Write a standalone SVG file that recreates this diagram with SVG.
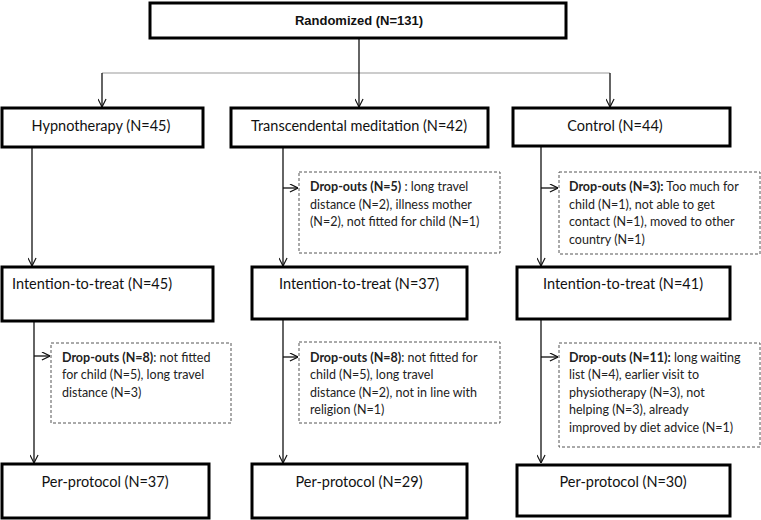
<svg xmlns="http://www.w3.org/2000/svg" width="761" height="520" viewBox="0 0 761 520">
<style>
.box{fill:#fff;stroke:#000;stroke-width:3}
.drop{fill:#fff;stroke:#555;stroke-width:1;stroke-dasharray:3 2}
.ln{fill:none;stroke:#111;stroke-width:1.3}
.gl{fill:none;stroke:#999;stroke-width:1.2}
.t{font-family:Lato,"Liberation Sans",sans-serif;font-size:14.5px;fill:#111}
.d{font-family:Lato,"Liberation Sans",sans-serif;font-size:12.5px;fill:#222}
.b{font-weight:bold}
.top{font-family:"Liberation Sans",Arial,sans-serif;font-size:13px;font-weight:bold;fill:#111}
</style>
<defs>
<marker id="ar" viewBox="0 0 10 10" refX="10" refY="5" markerWidth="9" markerHeight="9" markerUnits="userSpaceOnUse" orient="auto">
<path d="M1,0.5 L10,5 L1,9.5" fill="none" stroke="#111" stroke-width="1.3"/>
</marker>
</defs>
<g id="connectors">
<line class="gl" x1="102" y1="73" x2="610" y2="73"/>
<line class="ln" x1="359" y1="38" x2="359" y2="107" marker-end="url(#ar)"/>
<line class="ln" x1="102" y1="73" x2="102" y2="107" marker-end="url(#ar)"/>
<line class="ln" x1="610" y1="73" x2="610" y2="107" marker-end="url(#ar)"/>
<line class="ln" x1="32" y1="147" x2="32" y2="266" marker-end="url(#ar)"/>
<line class="ln" x1="283" y1="147" x2="283" y2="266" marker-end="url(#ar)"/>
<line class="ln" x1="541" y1="146" x2="541" y2="266" marker-end="url(#ar)"/>
<line class="ln" x1="283" y1="188" x2="298" y2="188" marker-end="url(#ar)"/>
<line class="ln" x1="541" y1="188" x2="558" y2="188" marker-end="url(#ar)"/>
<line class="ln" x1="34" y1="321" x2="34" y2="463" marker-end="url(#ar)"/>
<line class="ln" x1="283" y1="319" x2="283" y2="463" marker-end="url(#ar)"/>
<line class="ln" x1="541" y1="319" x2="541" y2="463" marker-end="url(#ar)"/>
<line class="ln" x1="34" y1="356" x2="50" y2="356" marker-end="url(#ar)"/>
<line class="ln" x1="283" y1="357" x2="298" y2="357" marker-end="url(#ar)"/>
<line class="ln" x1="541" y1="357" x2="558" y2="357" marker-end="url(#ar)"/>
</g>
<g id="randomized">
<rect class="box" x="150" y="3" width="416" height="35"/>
<text class="top" x="359" y="25" text-anchor="middle">Randomized (N=131)</text>
</g>
<g id="hypnotherapy">
<rect class="box" x="2" y="108" width="201" height="39"/>
<text class="t" x="101" y="131" text-anchor="middle">Hypnotherapy (N=45)</text>
</g>
<g id="tm">
<rect class="box" x="231" y="108" width="257" height="39"/>
<text class="t" x="359" y="131" text-anchor="middle">Transcendental meditation (N=42)</text>
</g>
<g id="control">
<rect class="box" x="513" y="108" width="217" height="38"/>
<text class="t" x="615" y="131" text-anchor="middle">Control (N=44)</text>
</g>
<g id="drop-tm-1">
<rect class="drop" x="299" y="172" width="201" height="81"/>
<text class="d" x="310" y="191"><tspan class="b">Drop-outs (N=5)</tspan> : long travel</text>
<text class="d" x="310" y="208.5">distance (N=2), illness mother</text>
<text class="d" x="310" y="226">(N=2), not fitted for child (N=1)</text>
</g>
<g id="drop-control-1">
<rect class="drop" x="559" y="172" width="201" height="82"/>
<text class="d" x="569" y="191"><tspan class="b">Drop-outs (N=3):</tspan> Too much for</text>
<text class="d" x="569" y="208.5">child (N=1), not able to get</text>
<text class="d" x="569" y="226">contact (N=1), moved to other</text>
<text class="d" x="569" y="243.5">country (N=1)</text>
</g>
<g id="itt-hypno">
<rect class="box" x="2" y="267" width="211" height="54"/>
<text class="t" x="12" y="289">Intention-to-treat (N=45)</text>
</g>
<g id="itt-tm">
<rect class="box" x="252" y="267" width="215" height="52"/>
<text class="t" x="359" y="289" text-anchor="middle">Intention-to-treat (N=37)</text>
</g>
<g id="itt-control">
<rect class="box" x="517" y="267" width="213" height="52"/>
<text class="t" x="623" y="289" text-anchor="middle">Intention-to-treat (N=41)</text>
</g>
<g id="drop-hypno-2">
<rect class="drop" x="51" y="343" width="180" height="80"/>
<text class="d" x="62" y="361.5"><tspan class="b">Drop-outs (N=8)</tspan>: not fitted</text>
<text class="d" x="62" y="379">for child (N=5), long travel</text>
<text class="d" x="62" y="396.5">distance (N=3)</text>
</g>
<g id="drop-tm-2">
<rect class="drop" x="299" y="342" width="201" height="81"/>
<text class="d" x="310" y="361.5"><tspan class="b">Drop-outs (N=8)</tspan>: not fitted for</text>
<text class="d" x="310" y="379">child (N=5), long travel</text>
<text class="d" x="310" y="396.5">distance (N=2), not in line with</text>
<text class="d" x="310" y="414">religion (N=1)</text>
</g>
<g id="drop-control-2">
<rect class="drop" x="559" y="343" width="201" height="104"/>
<text class="d" x="569" y="361.5"><tspan class="b">Drop-outs (N=11):</tspan> long waiting</text>
<text class="d" x="569" y="379">list (N=4), earlier visit to</text>
<text class="d" x="569" y="396.5">physiotherapy (N=3), not</text>
<text class="d" x="569" y="414">helping (N=3), already</text>
<text class="d" x="569" y="431.5">improved by diet advice (N=1)</text>
</g>
<g id="pp-hypno">
<rect class="box" x="2" y="464" width="207" height="54"/>
<text class="t" x="105" y="487" text-anchor="middle">Per-protocol (N=37)</text>
</g>
<g id="pp-tm">
<rect class="box" x="252" y="464" width="215" height="54"/>
<text class="t" x="359" y="487" text-anchor="middle">Per-protocol (N=29)</text>
</g>
<g id="pp-control">
<rect class="box" x="517" y="465" width="213" height="51"/>
<text class="t" x="623" y="487" text-anchor="middle">Per-protocol (N=30)</text>
</g>
</svg>
